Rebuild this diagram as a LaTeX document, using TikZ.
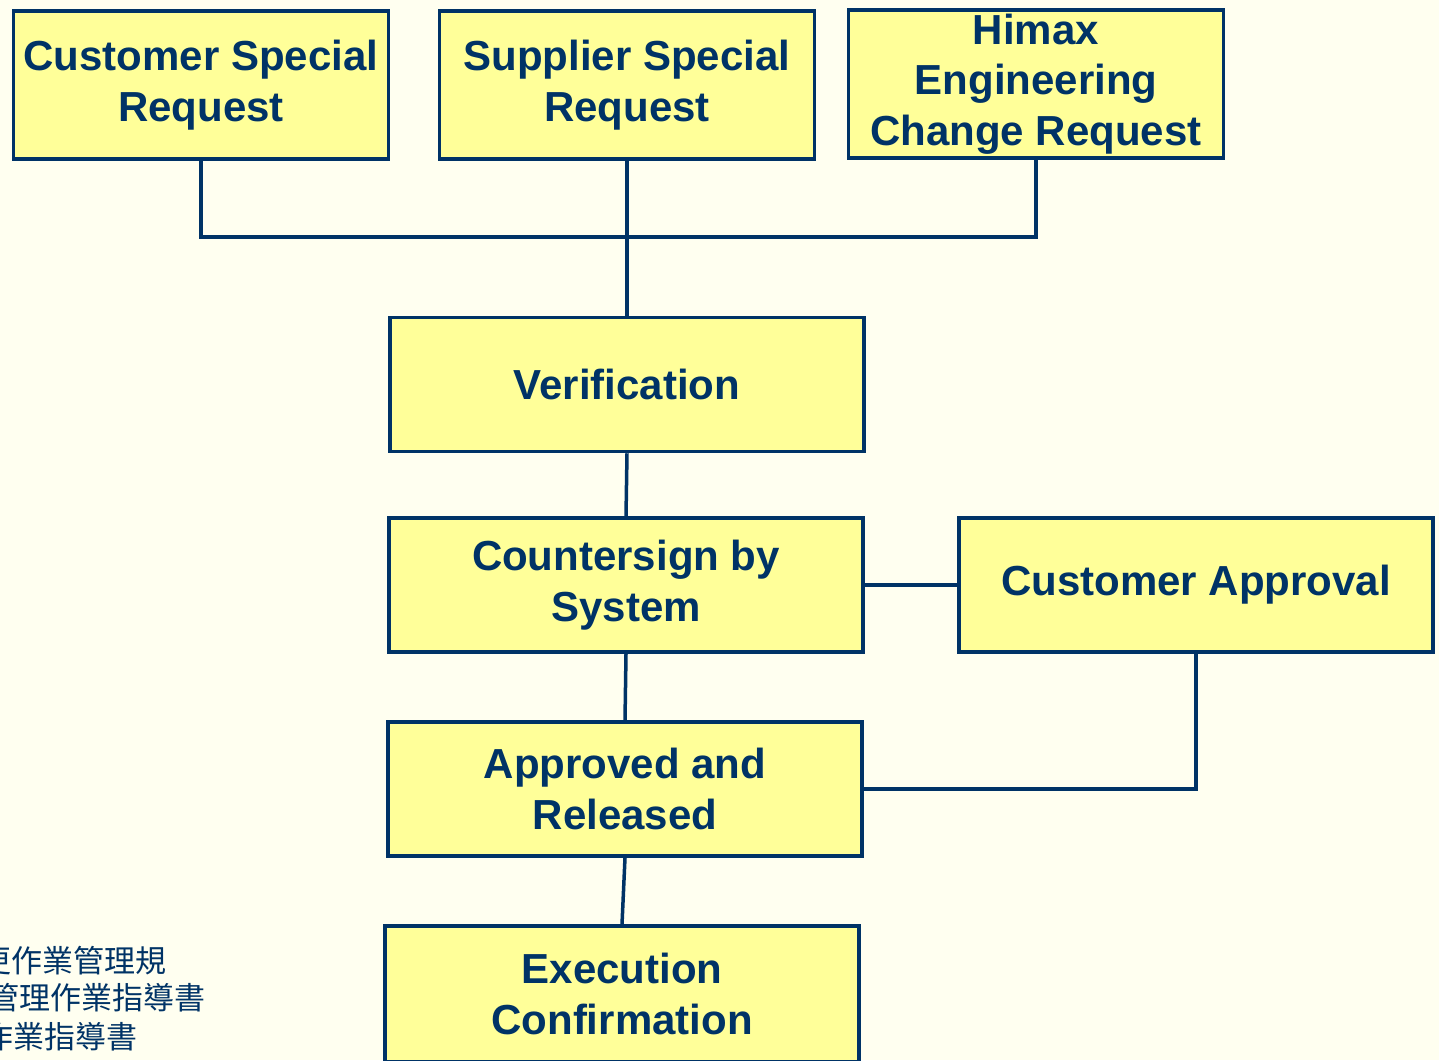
\documentclass[tikz,border=0pt]{standalone}
\usepackage{fontspec}
\setmainfont{Liberation Sans}
\newfontfamily\cjkfont{Noto Sans CJK TC}
\definecolor{navy}{RGB}{0,51,102}
\definecolor{boxfill}{RGB}{255,255,153}
\definecolor{paper}{RGB}{255,255,240}
\tikzset{
  flowbox/.style={draw=navy, line width=3.5pt, fill=boxfill, text=navy,
    align=center, inner sep=0pt,
    font=\bfseries\fontsize{42}{50.5}\selectfont},
  topbox/.style={flowbox, minimum width=375pt, minimum height=148pt},
  midbox/.style={flowbox, minimum width=474pt, minimum height=134pt},
  link/.style={draw=navy, line width=3.5pt},
  note/.style={text=navy, inner sep=0pt, anchor=east,
    font=\cjkfont\fontsize{31}{38}\selectfont}
}
\begin{document}
\begin{tikzpicture}[x=1pt, y=-1pt]
  \useasboundingbox (0,0) rectangle (1439,1060);
  \fill[paper] (0,0) rectangle (1439,1060);
  \begin{scope}
    \clip (0,0) rectangle (1439,1060);

    % request sources
    \node[topbox] (csr) at (201,85) {Customer Special\\Request};
    \node[topbox] (ssr) at (627,85) {Supplier Special\\Request};
    \node[topbox] (himax) at (1036,84) {Himax\\Engineering\\Change Request};

    % main flow
    \node[midbox] (ver) at (627,384.5) {Verification};
    \node[midbox] (cs) at (626,585) {Countersign by\\System};
    \node[midbox] (ca) at (1196,585) {Customer Approval};
    \node[midbox] (ar) at (625,789) {Approved and\\Released};
    \node[midbox, minimum height=136pt] (ec) at (622,994) {Execution\\Confirmation};

    % reference documents
    \node[note] (n1) at (167,961) {更作業管理規};
    \node[note] (n2) at (206,998) {管理作業指導書};
    \node[note] (n3) at (138,1037) {作業指導書};

    % connectors
    \coordinate (bus) at (627,237);
    \draw[link] (csr.south) -- (csr.south |- bus) -- (himax.south |- bus) -- (himax.south);
    \draw[link] (ssr.south) -- (ver.north);
    \draw[link] (ver.south) -- (cs.north);
    \draw[link] (cs.south) -- (ar.north);
    \draw[link] (ar.south) -- (ec.north);
    \draw[link] (cs.east) -- (ca.west);
    \draw[link] (ca.south) |- (ar.east);
  \end{scope}
\end{tikzpicture}
\end{document}
